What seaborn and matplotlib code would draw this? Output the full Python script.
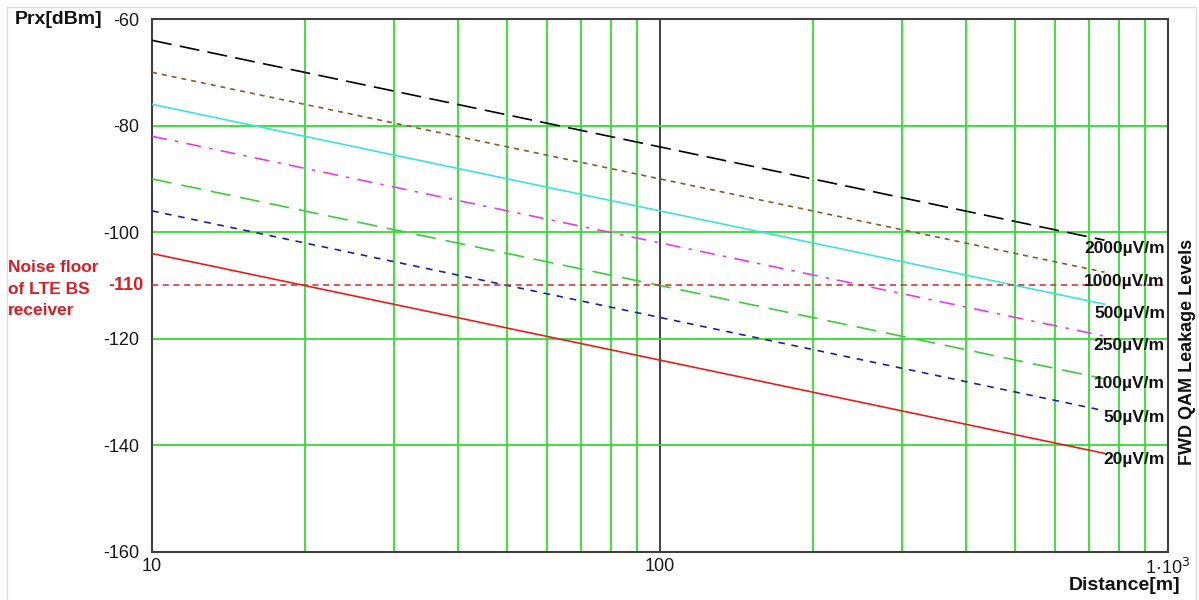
import matplotlib
matplotlib.use("Agg")
import matplotlib.pyplot as plt
import matplotlib.transforms as mtransforms
from matplotlib.lines import Line2D
from matplotlib.ticker import FixedLocator, NullFormatter
import seaborn as sns
import pandas as pd

# ---- data ----
distance_m = [10, 750]
levels = ["2000µV/m", "1000µV/m", "500µV/m", "250µV/m", "100µV/m", "50µV/m", "20µV/m"]
prx_start = [-64, -70, -76, -82, -90, -96, -104]
prx_end = [-101.5, -107.5, -113.5, -119.5, -127.5, -133.5, -141.5]
label_y = [-103.0, -109.2, -115.2, -121.2, -128.3, -134.7, -142.7]
noise_floor = -110
y_ticks = [-60, -80, -100, -120, -140, -160]
x_ticks = [10, 100, 1000]
x_tick_labels = ["10", "100", "1·10$^3$"]

colors = ["#000000", "#8b5a2b", "#3fe0e0", "#e040e0", "#40c840", "#20209a", "#e02020"]
dashes = [(0, (12, 5)), (0, (3, 3)), "-", (0, (9, 5, 2, 5)), (0, (12, 6)), (0, (4, 4)), "-"]

sns.set_style("white")
plt.rcParams["font.family"] = ["Liberation Sans", "DejaVu Sans"]

fig = plt.figure(figsize=(11.99, 6.0), dpi=100)
ax = fig.add_axes([152 / 1199, 48 / 600, 1016 / 1199, 533 / 600])

green = "#33dd33"
for i, lvl in enumerate(levels):
    df = pd.DataFrame({"d": distance_m, "p": [prx_start[i], prx_end[i]]})
    sns.lineplot(data=df, x="d", y="p", ax=ax, color=colors[i], linewidth=1.2,
                 linestyle=dashes[i], zorder=3)

ax.axhline(noise_floor, color="#cc2a2a", linewidth=1.1, linestyle=(0, (4, 3)), zorder=3)

ax.set_xscale("log")
ax.set_xlim(10, 1000)
ax.set_ylim(-160, -60)
ax.xaxis.set_major_locator(FixedLocator(x_ticks))
ax.xaxis.set_minor_locator(FixedLocator([20, 30, 40, 50, 60, 70, 80, 90,
                                         200, 300, 400, 500, 600, 700, 800, 900]))
ax.xaxis.set_minor_formatter(NullFormatter())
ax.set_xticks(x_ticks)
ax.set_xticklabels(x_tick_labels)
ax.set_yticks(y_ticks)
ax.set_yticklabels(["-" + str(abs(v)) for v in y_ticks])
ax.tick_params(axis="both", which="both", length=0, labelsize=13, colors="#1a1a1a")
ax.tick_params(axis="y", pad=9)
ax.tick_params(axis="x", pad=4)

ax.grid(which="minor", axis="x", color=green, linewidth=1.3, zorder=1)
ax.grid(which="major", axis="x", color="#333333", linewidth=1.3, zorder=1)
ax.grid(which="major", axis="y", color=green, linewidth=1.3, zorder=1)
ax.set_axisbelow(True)

for s in ax.spines.values():
    s.set_visible(True)
    s.set_color("#404040")
    s.set_linewidth(1.5)

ax.set_xlabel("")
ax.set_ylabel("")

# series labels
trans = mtransforms.blended_transform_factory(ax.transAxes, ax.transData)
for lvl, yv in zip(levels, label_y):
    ax.text(0.997, yv, lvl, transform=trans, ha="right", va="center",
            fontsize=12.5, fontweight="bold", color="#111111", zorder=5)

# red -110 label
ax.text(-0.0085, noise_floor, "-110", transform=trans, ha="right", va="center",
        fontsize=13, fontweight="bold", color="#d0202a")

fig.text(8 / 1199, 1 - 289 / 600, "Noise floor\nof LTE BS\nreceiver", ha="left", va="center",
         fontsize=12.5, fontweight="bold", color="#d0202a", linespacing=1.55)

fig.text(15 / 1199, 1 - 19 / 600, "Prx[dBm]", ha="left", va="center",
         fontsize=14, fontweight="bold", color="#111111")
fig.text(1180 / 1199, 1 - 585 / 600, "Distance[m]", ha="right", va="center",
         fontsize=14, fontweight="bold", color="#111111")
fig.text(1188 / 1199, 1 - 352 / 600, "FWD QAM Leakage Levels", ha="center", va="center",
         rotation=90, fontsize=13, fontweight="bold", color="#111111")

# outer light frame
fc = "#dddddd"
fig.add_artist(Line2D([7 / 1199, 7 / 1199], [0, 1 - 7 / 600], transform=fig.transFigure, color=fc, lw=1))
fig.add_artist(Line2D([7 / 1199, 1196 / 1199], [1 - 7 / 600, 1 - 7 / 600], transform=fig.transFigure, color=fc, lw=1))
fig.add_artist(Line2D([1196 / 1199, 1196 / 1199], [0, 1 - 7 / 600], transform=fig.transFigure, color=fc, lw=1))

fig.savefig("out.png", dpi=100)
